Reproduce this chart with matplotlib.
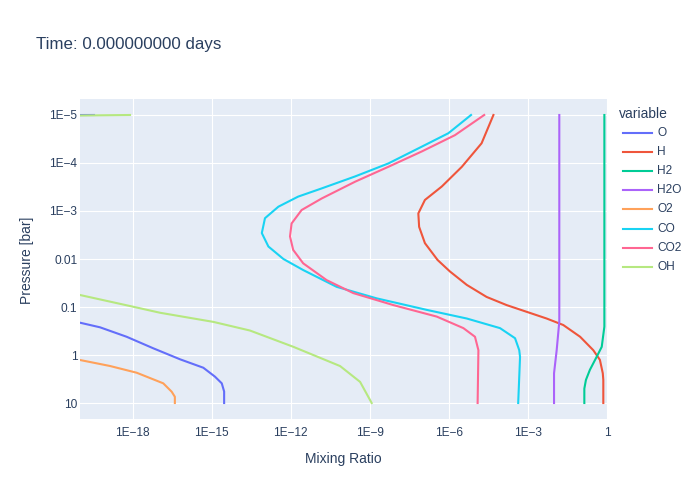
import numpy as np
import matplotlib
matplotlib.use("Agg")
import matplotlib.pyplot as plt
from matplotlib.lines import Line2D

species = ["O", "H", "H2", "H2O", "O2", "CO", "CO2", "OH"]
colors = ["#636EFA", "#EF553B", "#00CC96", "#AB63FA", "#FFA15A", "#19D3F3", "#FF6692", "#B6E880"]

logp_O = [-5.0, -4.98, -0.75, -0.673, -0.577, -0.38, -0.14, 0.09, 0.265, 0.45, 0.59, 0.76, 1.0]
logx_O = [-19.47, -30, -21, -20.0, -19.24, -18.23, -17.22, -16.2, -15.32, -14.88, -14.62, -14.53, -14.53]

logp_H = [-5.0, -4.41, -3.92, -3.51, -3.23, -2.95, -2.67, -2.33, -1.98, -1.74, -1.46, -1.21,
          -1.04, -0.90, -0.76, -0.625, -0.38, -0.10, 0.10, 0.38, 0.52, 1.0]
logx_H = [-4.31, -4.76, -5.51, -6.27, -6.91, -7.16, -7.13, -6.91, -6.43, -5.96, -5.32, -4.57,
          -3.81, -3.05, -2.29, -1.66, -1.02, -0.52, -0.27, -0.16, -0.14, -0.14]

logp_H2 = [-5.0, -0.59, -0.17, 0.035, 0.31, 0.52, 0.70, 1.0]
logx_H2 = [-0.10, -0.10, -0.20, -0.39, -0.65, -0.80, -0.86, -0.86]

logp_H2O = [-5.0, -0.70, -0.10, 0.38, 1.0]
logx_H2O = [-1.81, -1.81, -1.91, -2.01, -2.01]

logp_O2 = [-5.0, -0.2, 0.104, 0.229, 0.369, 0.59, 0.765, 0.87, 1.0]
logx_O2 = [-40, -22, -20.0, -18.86, -17.85, -16.84, -16.52, -16.4, -16.4]

logp_CO = [-5.0, -4.62, -4.34, -3.99, -3.72, -3.47, -3.30, -3.09, -2.85, -2.54, -2.26, -2.0,
           -1.77, -1.42, -1.18, -0.94, -0.76, -0.56, -0.35, -0.10, 0.04, 1.0]
logx_CO = [-5.16, -6.02, -7.03, -8.30, -9.56, -10.83, -11.72, -12.47, -12.98, -13.10, -12.85, -12.28,
           -11.53, -10.26, -8.74, -6.84, -5.32, -4.06, -3.49, -3.33, -3.30, -3.37]

logp_CO2 = [-5.0, -4.58, -4.24, -3.92, -3.61, -3.26, -3.02, -2.74, -2.47, -2.19, -1.91, -1.56,
            -1.29, -1.04, -0.80, -0.56, -0.38, -0.10, 1.0]
logx_CO2 = [-4.66, -5.77, -7.03, -8.30, -9.56, -10.83, -11.59, -11.97, -12.03, -11.91, -11.53, -10.64,
            -9.63, -8.11, -6.46, -5.45, -5.01, -4.88, -4.91]

logp_OH = [-5.0, -4.93, -1.3, -1.25, -1.02, -0.88, -0.69, -0.51, -0.17, 0.23, 0.56, 1.0]
logx_OH = [-18.1, -30, -21, -20, -18.1, -16.96, -14.94, -13.55, -11.9, -10.13, -9.37, -8.93]

profiles = {
    "O": (logx_O, logp_O), "H": (logx_H, logp_H), "H2": (logx_H2, logp_H2),
    "H2O": (logx_H2O, logp_H2O), "O2": (logx_O2, logp_O2), "CO": (logx_CO, logp_CO),
    "CO2": (logx_CO2, logp_CO2), "OH": (logx_OH, logp_OH),
}

xticks = [1e-18, 1e-15, 1e-12, 1e-9, 1e-6, 1e-3, 1]
xticklabels = ["1E\u221218", "1E\u221215", "1E\u221212", "1E\u22129", "1E\u22126", "1E\u22123", "1"]
yticks = [1e-5, 1e-4, 1e-3, 1e-2, 1e-1, 1, 10]
yticklabels = ["1E\u22125", "1E\u22124", "1E\u22123", "0.01", "0.1", "1", "10"]

plt.rcParams['font.family'] = ['Liberation Sans', 'DejaVu Sans']
textcol = "#2a3f5f"

fig = plt.figure(figsize=(7, 5), dpi=100)
ax = fig.add_axes([80/700, 1 - 419/500, 527/700, 320/500])
ax.set_facecolor("#E5ECF6")

for name, col in zip(species, colors):
    lx, lp = profiles[name]
    ax.plot(10.0 ** np.array(lx), 10.0 ** np.array(lp), color=col, lw=1.5, label=name,
            solid_joinstyle='round')

ax.set_xscale('log')
ax.set_yscale('log')
ax.set_xlim(1e-20, 1)
ax.set_ylim(10 ** 1.333, 10 ** -5.333)

ax.set_xticks(xticks)
ax.set_xticklabels(xticklabels)
ax.set_yticks(yticks)
ax.set_yticklabels(yticklabels)
ax.minorticks_off()
ax.tick_params(length=0, labelsize=8.6, labelcolor=textcol)
ax.tick_params(axis='x', pad=6)
ax.tick_params(axis='y', pad=2)
ax.grid(True, color='white', lw=0.8)
ax.set_axisbelow(True)
for s in ax.spines.values():
    s.set_visible(False)

fig.text(343/700, 1 - 459/500, "Mixing Ratio", ha='center', va='center', fontsize=10, color=textcol)
fig.text(27/700, 1 - 260/500, "Pressure [bar]", ha='center', va='center', fontsize=10,
         color=textcol, rotation=90)
fig.text(36/700, 1 - 44/500, "Time: 0.000000000 days", ha='left', va='center', fontsize=12.2,
         color=textcol)

# Legende wie bei plotly: Titel und Eintraege von Hand gesetzt
fig.text(619/700, 1 - 113.5/500, "variable", ha='left', va='center', fontsize=10, color=textcol)
for i, (name, col) in enumerate(zip(species, colors)):
    yy = 1 - (132.5 + 19.2 * i) / 500
    fig.add_artist(Line2D([623/700, 652/700], [yy, yy], color=col, lw=1.5,
                          transform=fig.transFigure))
    fig.text(657/700, yy, name, ha='left', va='center', fontsize=8.6, color=textcol)

fig.savefig("out.png", dpi=100, facecolor='white')
